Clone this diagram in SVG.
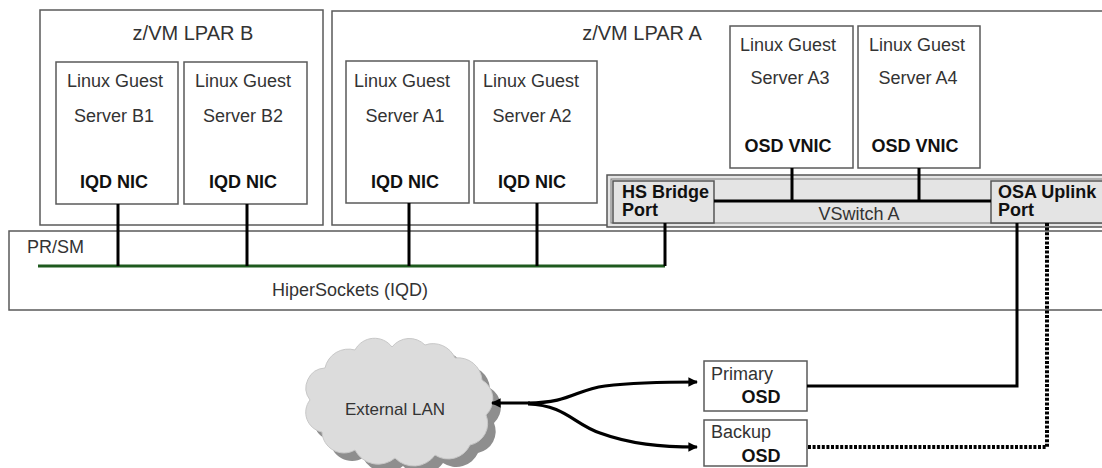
<svg xmlns="http://www.w3.org/2000/svg" width="1102" height="468" viewBox="0 0 1102 468">
  <style>
    .box { fill: #ffffff; stroke: #5a5a5a; stroke-width: 1.5; }
    .gbox { fill: #e4e4e4; stroke: #555555; stroke-width: 1.5; }
    .t { font-family: "Liberation Sans", Arial, sans-serif; font-size: 18px; fill: #333333; }
    .tt { font-family: "Liberation Sans", Arial, sans-serif; font-size: 20px; fill: #333333; }
    .b { font-family: "Liberation Sans", Arial, sans-serif; font-size: 18px; font-weight: bold; fill: #111111; }
    .c { text-anchor: middle; }
    .wire { stroke: #000000; stroke-width: 3; fill: none; }
    .green { stroke: #1e5a1e; stroke-width: 3; fill: none; }
    .dot { stroke: #000000; stroke-width: 4; fill: none; stroke-dasharray: 3 1.6; }
    .arr { stroke: #000000; stroke-width: 3.2; fill: none; }
  </style>
  <defs>
    <marker id="ah" viewBox="0 0 10 10" refX="9" refY="5" markerWidth="3" markerHeight="3" orient="auto-start-reverse">
      <path d="M0,0 L10,5 L0,10 Z" fill="#000000"/>
    </marker>
    <path id="cloud" d="M322,432 A20,20 0 0 1 310,400 A20,20 0 0 1 325,368 A24,24 0 0 1 355,350 A22,22 0 0 1 392,347 A22,22 0 0 1 425,345 A24,24 0 0 1 455,358 A24,24 0 0 1 482,380 A22,22 0 0 1 486,415 A22,22 0 0 1 470,445 A24,24 0 0 1 435,455 A26,26 0 0 1 395,458 A26,26 0 0 1 355,450 A22,22 0 0 1 322,432 Z"/>
  </defs>

  <!-- containers -->
  <g id="lpar-b">
    <rect class="box" x="40" y="10" width="283" height="215"/>
    <text class="tt c" x="193" y="40">z/VM LPAR B</text>
  </g>
  <g id="lpar-a">
    <rect class="box" x="332" y="11" width="800" height="214"/>
    <text class="tt c" x="642" y="40">z/VM LPAR A</text>
  </g>
  <g id="prsm">
    <rect class="box" x="9" y="231" width="1120" height="79"/>
    <text class="t" x="27" y="253">PR/SM</text>
    <text class="t c" x="350" y="296">HiperSockets (IQD)</text>
  </g>

  <!-- guests -->
  <g id="server-b1">
    <rect class="box" x="56" y="62" width="122" height="142"/>
    <text class="t c" x="115" y="87">Linux Guest</text>
    <text class="t c" x="114" y="122">Server B1</text>
    <text class="b c" x="114" y="188">IQD NIC</text>
  </g>
  <g id="server-b2">
    <rect class="box" x="184" y="62" width="123" height="142"/>
    <text class="t c" x="243" y="87">Linux Guest</text>
    <text class="t c" x="243" y="122">Server B2</text>
    <text class="b c" x="243" y="188">IQD NIC</text>
  </g>
  <g id="server-a1">
    <rect class="box" x="346" y="61" width="123" height="142"/>
    <text class="t c" x="402" y="87">Linux Guest</text>
    <text class="t c" x="405" y="122">Server A1</text>
    <text class="b c" x="405" y="188">IQD NIC</text>
  </g>
  <g id="server-a2">
    <rect class="box" x="474" y="61" width="123" height="142"/>
    <text class="t c" x="531" y="87">Linux Guest</text>
    <text class="t c" x="532" y="122">Server A2</text>
    <text class="b c" x="532" y="188">IQD NIC</text>
  </g>
  <g id="server-a3">
    <rect class="box" x="730" y="26" width="123" height="142"/>
    <text class="t c" x="788" y="51">Linux Guest</text>
    <text class="t c" x="790" y="84">Server A3</text>
    <text class="b c" x="788" y="152">OSD VNIC</text>
  </g>
  <g id="server-a4">
    <rect class="box" x="858" y="26" width="122" height="142"/>
    <text class="t c" x="917" y="51">Linux Guest</text>
    <text class="t c" x="918" y="84">Server A4</text>
    <text class="b c" x="915" y="152">OSD VNIC</text>
  </g>

  <!-- vswitch -->
  <g id="vswitch-a">
    <rect class="gbox" x="607" y="175" width="520" height="52"/>
    <rect x="611" y="179" width="516" height="44" fill="none" stroke="#7a7a7a" stroke-width="1"/>
    <text class="t c" x="859" y="220">VSwitch A</text>
  </g>
  <g id="hs-bridge-port">
    <rect class="gbox" x="613" y="181" width="101" height="42"/>
    <text class="b" x="622" y="198">HS Bridge</text>
    <text class="b" x="622" y="216">Port</text>
  </g>
  <g id="osa-uplink-port">
    <rect class="gbox" x="991" y="181" width="130" height="42"/>
    <text class="b" x="998" y="198">OSA Uplink</text>
    <text class="b" x="998" y="216">Port</text>
  </g>

  <!-- OSDs -->
  <g id="primary-osd">
    <rect class="box" x="704" y="361" width="103" height="50"/>
    <text class="t" x="711" y="380">Primary</text>
    <text class="b c" x="761" y="403">OSD</text>
  </g>
  <g id="backup-osd">
    <rect class="box" x="704" y="420" width="103" height="46"/>
    <text class="t" x="711" y="438">Backup</text>
    <text class="b c" x="761" y="462">OSD</text>
  </g>

  <!-- cloud -->
  <g id="external-lan">
    <use href="#cloud" transform="translate(8,8)" fill="#8e8e8e"/>
    <use href="#cloud" fill="#dcdcdc" stroke="#c8c8c8" stroke-width="1"/>
    <text class="t c" x="395" y="415" style="font-size:17px">External LAN</text>
  </g>

  <!-- connectors -->
  <g id="connectors">
    <path class="green" d="M38,266 H665"/>
    <path class="wire" d="M118,204 V266"/>
    <path class="wire" d="M247,204 V266"/>
    <path class="wire" d="M409,203 V266"/>
    <path class="wire" d="M537,203 V266"/>
    <path class="wire" d="M665,223 V266"/>
    <path class="wire" d="M792,168 V201"/>
    <path class="wire" d="M919,168 V201"/>
    <path class="wire" d="M714,201 H991"/>
    <path class="wire" d="M1017,223 V386 H807"/>
    <path class="dot" d="M1047,223 V447 H807"/>
    <path class="arr" d="M530,403 H492" marker-end="url(#ah)"/>
    <path class="arr" d="M528,403 C570,403 575,390 605,386 C630,383 660,382 697,382" marker-end="url(#ah)"/>
    <path class="arr" d="M528,404 C565,405 575,425 600,433 C630,444 660,447 697,447" marker-end="url(#ah)"/>
  </g>
</svg>
